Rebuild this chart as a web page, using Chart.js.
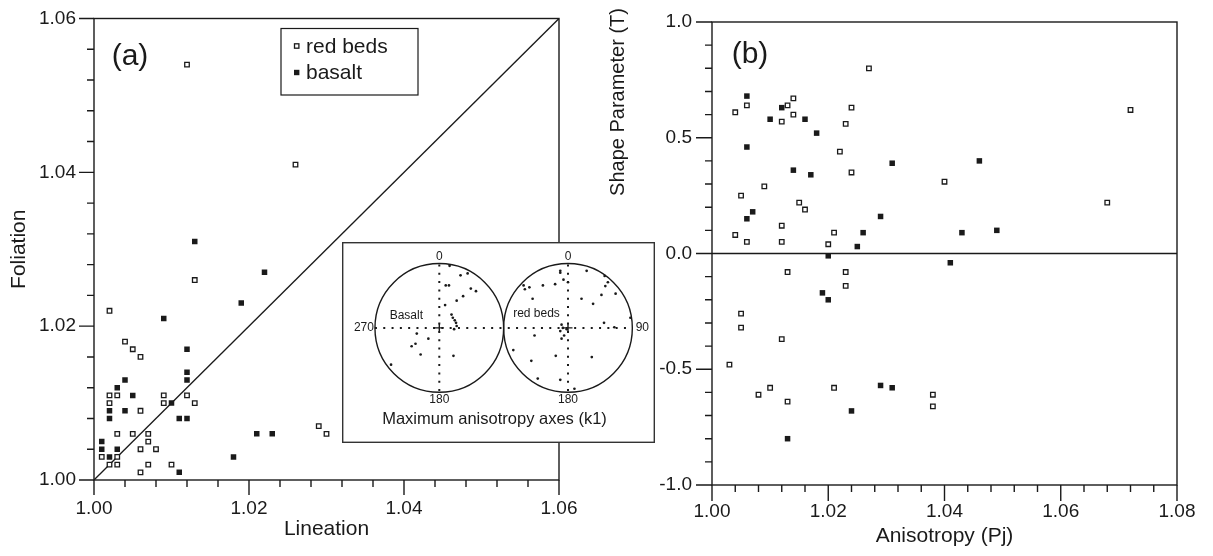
<!DOCTYPE html>
<html>
<head>
<meta charset="utf-8">
<title>Foliation / Lineation and Shape Parameter</title>
<script src="https://cdn.jsdelivr.net/npm/chart.js@4.4.0/dist/chart.umd.min.js"></script>
<style>
  html, body { margin: 0; padding: 0; background: #fff; }
  #wrap { position: relative; width: 1213px; height: 556px; overflow: hidden; }
  canvas { position: absolute; }
  #chartA { left: 0; top: 0; }
  #chartB { left: 600px; top: 0; }
  #chartNet { left: 342px; top: 242px; }
</style>
</head>
<body>
<div id="wrap">
  <canvas id="chartA" width="600" height="556"></canvas>
  <canvas id="chartB" width="613" height="556"></canvas>
  <canvas id="chartNet" width="313" height="201"></canvas>
</div>
<script>
// ---------- data: panel (a) lineation vs foliation ----------
const redBedsLin = [1.012, 1.026, 1.013, 1.002, 1.004, 1.005, 1.006, 1.002, 1.003, 1.009,
                    1.012, 1.002, 1.009, 1.013, 1.006, 1.003, 1.005, 1.007, 1.007, 1.006,
                    1.008, 1.001, 1.003, 1.002, 1.003, 1.007, 1.010, 1.006, 1.029, 1.030];
const redBedsFol = [1.054, 1.041, 1.026, 1.022, 1.018, 1.017, 1.016, 1.011, 1.011, 1.011,
                    1.011, 1.010, 1.010, 1.010, 1.009, 1.006, 1.006, 1.006, 1.005, 1.004,
                    1.004, 1.003, 1.003, 1.002, 1.002, 1.002, 1.002, 1.001, 1.007, 1.006];
const basaltLin = [1.013, 1.022, 1.019, 1.009, 1.012, 1.012, 1.012, 1.004, 1.003, 1.005,
                   1.010, 1.002, 1.004, 1.002, 1.011, 1.012, 1.001, 1.001, 1.003, 1.002,
                   1.018, 1.011, 1.021, 1.023];
const basaltFol = [1.031, 1.027, 1.023, 1.021, 1.017, 1.014, 1.013, 1.013, 1.012, 1.011,
                   1.010, 1.009, 1.009, 1.008, 1.008, 1.008, 1.005, 1.004, 1.004, 1.003,
                   1.003, 1.001, 1.006, 1.006];
const diagonalA = [1.00, 1.06];

// ---------- data: panel (b) anisotropy vs shape parameter ----------
const redBedsPj = [1.027, 1.006, 1.004, 1.013, 1.014, 1.014, 1.012, 1.024, 1.023, 1.022,
                   1.024, 1.009, 1.005, 1.015, 1.016, 1.012, 1.004, 1.021, 1.006, 1.012,
                   1.020, 1.013, 1.023, 1.023, 1.005, 1.005, 1.012, 1.003, 1.010, 1.008,
                   1.013, 1.021, 1.038, 1.038, 1.040, 1.068, 1.072];
const redBedsT = [0.80, 0.64, 0.61, 0.64, 0.67, 0.60, 0.57, 0.63, 0.56, 0.44,
                  0.35, 0.29, 0.25, 0.22, 0.19, 0.12, 0.08, 0.09, 0.05, 0.05,
                  0.04, -0.08, -0.08, -0.14, -0.26, -0.32, -0.37, -0.48, -0.58, -0.61,
                  -0.64, -0.58, -0.61, -0.66, 0.31, 0.22, 0.62];
const basaltPj = [1.006, 1.012, 1.010, 1.016, 1.018, 1.006, 1.031, 1.014, 1.017, 1.007,
                  1.006, 1.029, 1.026, 1.025, 1.020, 1.019, 1.020, 1.029, 1.031, 1.024,
                  1.013, 1.046, 1.043, 1.049, 1.041];
const basaltT = [0.68, 0.63, 0.58, 0.58, 0.52, 0.46, 0.39, 0.36, 0.34, 0.18,
                 0.15, 0.16, 0.09, 0.03, -0.01, -0.17, -0.20, -0.57, -0.58, -0.68,
                 -0.80, 0.40, 0.09, 0.10, -0.04];
const zeroLineB = [1.00, 1.08];

// ---------- data: inset stereonets (k1 axes, unit-circle coords) ----------
const basaltNetX = [0.16, 0.33, 0.44, 0.10, 0.15, 0.49, 0.57, 0.37, 0.27, 0.09, 0.19, 0.21,
                    0.24, 0.26, 0.27, 0.23, -0.35, -0.17, -0.37, -0.43, -0.29, 0.22, -0.75];
const basaltNetY = [0.98, 0.83, 0.86, 0.67, 0.67, 0.62, 0.58, 0.50, 0.43, 0.36, 0.21, 0.16,
                    0.12, 0.08, 0.03, -0.02, -0.09, -0.17, -0.25, -0.29, -0.42, -0.44, -0.58];
const redNetX = [-0.12, -0.12, -0.07, 0.00, 0.29, 0.57, 0.62, 0.58, -0.69, -0.60, -0.39, -0.20,
                 -0.67, -0.55, 0.21, 0.39, 0.52, 0.74, 0.97, 0.56, 0.72, -0.10, -0.08, -0.12,
                 -0.06, -0.10, -0.02, -0.52, -0.85, -0.57, -0.19, 0.37, -0.47, -0.12, 0.10];
const redNetY = [0.90, 0.87, 0.76, 0.72, 0.90, 0.82, 0.72, 0.66, 0.67, 0.64, 0.67, 0.69,
                 0.61, 0.46, 0.46, 0.38, 0.52, 0.54, 0.16, 0.08, 0.01, 0.05, 0.00, -0.05,
                 -0.12, -0.17, -0.02, -0.12, -0.35, -0.52, -0.44, -0.46, -0.80, -0.82, -0.96];
const netCenters = [-1, 1];

// ---------- common style ----------
const FONT = "'Liberation Sans', Arial, Helvetica, sans-serif";
const INK = '#1a1a1a';

const pts = (xs, ys) => xs.map((x, i) => ({ x: x, y: ys[i] }));

function isMajor(v, step) {
    const r = v / step;
    return Math.abs(r - Math.round(r)) < 1e-6;
}

const openSquare = { pointStyle: 'rect', pointRadius: 3.2, pointBackgroundColor: '#fff',
                     pointBorderColor: INK, pointBorderWidth: 1.3, showLine: false };
const filledSquare = { pointStyle: 'rect', pointRadius: 3.9, pointBackgroundColor: INK,
                       pointBorderColor: INK, pointBorderWidth: 0, showLine: false };

// frame around plot area + major / minor tick marks drawn from the scales
const boxAndTicks = {
    id: 'boxAndTicks',
    afterDatasetsDraw(chart, args, o) {
        const { ctx, chartArea: a } = chart;
        const sx = chart.scales.x, sy = chart.scales.y;
        ctx.save();
        ctx.strokeStyle = INK;
        ctx.lineWidth = 1.4;
        ctx.strokeRect(a.left, a.top, a.right - a.left, a.bottom - a.top);
        ctx.beginPath();
        sx.ticks.forEach(t => {
            const p = sx.getPixelForValue(t.value);
            const len = isMajor(t.value, o.xMajor) ? o.major : o.minor;
            ctx.moveTo(p, a.bottom);
            ctx.lineTo(p, a.bottom + len);
        });
        sy.ticks.forEach(t => {
            const p = sy.getPixelForValue(t.value);
            const len = isMajor(t.value, o.yMajor) ? o.major : o.minor;
            ctx.moveTo(a.left, p);
            ctx.lineTo(a.left - len, p);
        });
        ctx.stroke();
        ctx.restore();
    }
};

function axis(min, max, step, major, digits, fit, tickLen, pad) {
    return {
        type: 'linear', min: min, max: max,
        afterFit: fit,
        grid: { display: true, drawOnChartArea: false, drawTicks: true,
                tickLength: tickLen, tickColor: 'rgba(0,0,0,0)' },
        border: { display: false },
        ticks: {
            stepSize: step, autoSkip: false, maxRotation: 0, padding: pad,
            color: INK, font: { family: FONT, size: 19 },
            callback: v => isMajor(v, major) ? v.toFixed(digits) : ''
        }
    };
}

// ============================================
// PANEL (a)
// ============================================
const extrasA = {
    id: 'extrasA',
    afterDraw(chart) {
        const ctx = chart.ctx;
        ctx.save();
        ctx.fillStyle = INK;
        ctx.textAlign = 'center';
        ctx.textBaseline = 'middle';
        ctx.font = `30px ${FONT}`;
        ctx.fillText('(a)', 130, 57);

        // legend
        ctx.strokeStyle = INK;
        ctx.lineWidth = 1.2;
        ctx.strokeRect(281, 28.5, 137, 66.5);
        const ds = chart.data.datasets;
        const rows = [{ d: ds[0], y: 46 }, { d: ds[1], y: 72.5 }];
        ctx.font = `21px ${FONT}`;
        ctx.textAlign = 'left';
        rows.forEach(r => {
            if (r.d.pointBackgroundColor === '#fff') {
                ctx.lineWidth = 1.3;
                ctx.strokeRect(294.5, r.y - 2.2, 4.4, 4.4);
            } else {
                ctx.fillRect(294, r.y - 2.7, 5.4, 5.4);
            }
            ctx.fillText(r.d.label, 306, r.y + 1);
        });
        ctx.restore();
    }
};

new Chart(document.getElementById('chartA'), {
    type: 'scatter',
    data: {
        datasets: [
            Object.assign({ label: 'red beds', data: pts(redBedsLin, redBedsFol) }, openSquare),
            Object.assign({ label: 'basalt', data: pts(basaltLin, basaltFol) }, filledSquare),
            { label: 'y = x', data: pts(diagonalA, diagonalA), showLine: true,
              borderColor: INK, borderWidth: 1.3, pointRadius: 0 }
        ]
    },
    options: {
        responsive: false, animation: false, events: [],
        layout: { padding: { top: 18.5, right: 41, left: 0, bottom: 0 } },
        scales: {
            x: Object.assign(axis(1.00, 1.06, 0.004, 0.02, 2, s => { s.height = 76; }, 15, 2), {
                title: { display: true, text: 'Lineation', color: INK,
                         font: { family: FONT, size: 21 }, padding: { top: 0, bottom: 14 } }
            }),
            y: Object.assign(axis(1.00, 1.06, 0.004, 0.02, 2, s => { s.width = 94; }, 15, 3), {
                title: { display: true, text: 'Foliation', color: INK,
                         font: { family: FONT, size: 21 }, padding: { top: 7, bottom: 0 } }
            })
        },
        plugins: {
            legend: { display: false },
            tooltip: { enabled: false },
            boxAndTicks: { xMajor: 0.02, yMajor: 0.02, major: 15, minor: 7 }
        }
    },
    plugins: [boxAndTicks, extrasA]
});

// ============================================
// PANEL (b)
// ============================================
const extrasB = {
    id: 'extrasB',
    afterDraw(chart) {
        const ctx = chart.ctx;
        ctx.save();
        ctx.fillStyle = INK;
        ctx.textAlign = 'center';
        ctx.textBaseline = 'middle';
        ctx.font = `30px ${FONT}`;
        ctx.fillText('(b)', 150, 55);
        ctx.font = `20px ${FONT}`;
        ctx.translate(18, 102);
        ctx.rotate(-Math.PI / 2);
        ctx.fillText('Shape Parameter (T)', 0, 0);
        ctx.restore();
    }
};

new Chart(document.getElementById('chartB'), {
    type: 'scatter',
    data: {
        datasets: [
            Object.assign({ label: 'red beds', data: pts(redBedsPj, redBedsT) }, openSquare),
            Object.assign({ label: 'basalt', data: pts(basaltPj, basaltT) }, filledSquare),
            { label: 'T = 0', data: pts(zeroLineB, [0, 0]), showLine: true,
              borderColor: INK, borderWidth: 1.3, pointRadius: 0 }
        ]
    },
    options: {
        responsive: false, animation: false, events: [],
        layout: { padding: { top: 22, right: 36, left: 0, bottom: 0 } },
        scales: {
            x: Object.assign(axis(1.00, 1.08, 0.004, 0.02, 2, s => { s.height = 71; }, 15, 0), {
                title: { display: true, text: 'Anisotropy (Pj)', color: INK,
                         font: { family: FONT, size: 21 }, padding: { top: 0, bottom: 7 } }
            }),
            y: axis(-1.0, 1.0, 0.1, 0.5, 1, s => { s.width = 112; }, 16, 4)
        },
        plugins: {
            legend: { display: false },
            tooltip: { enabled: false },
            boxAndTicks: { xMajor: 0.02, yMajor: 0.5, major: 16, minor: 7 }
        }
    },
    plugins: [boxAndTicks, extrasB]
});

// ============================================
// INSET: stereonets of maximum anisotropy axes
// ============================================
const netPlugin = {
    id: 'netPlugin',
    beforeDraw(chart) {
        const ctx = chart.ctx;
        ctx.save();
        ctx.fillStyle = '#fff';
        ctx.fillRect(0, 0, chart.width, chart.height);
        ctx.restore();
    },
    beforeDatasetsDraw(chart) {
        const { ctx } = chart;
        const sx = chart.scales.x, sy = chart.scales.y;
        const cy = sy.getPixelForValue(0);
        ctx.save();
        ctx.strokeStyle = INK;
        ctx.fillStyle = INK;

        // dotted cross lines
        ctx.lineWidth = 2;
        ctx.setLineDash([2, 6.3]);
        ctx.beginPath();
        ctx.moveTo(sx.getPixelForValue(-2), cy);
        ctx.lineTo(sx.getPixelForValue(2), cy);
        netCenters.forEach(c => {
            const cx = sx.getPixelForValue(c);
            ctx.moveTo(cx, sy.getPixelForValue(1));
            ctx.lineTo(cx, sy.getPixelForValue(-1));
        });
        ctx.stroke();
        ctx.setLineDash([]);

        // circles and centre crosses
        ctx.lineWidth = 1.4;
        netCenters.forEach(c => {
            const cx = sx.getPixelForValue(c);
            const r = sx.getPixelForValue(c + 1) - cx;
            ctx.beginPath();
            ctx.arc(cx, cy, r, 0, Math.PI * 2);
            ctx.stroke();
            ctx.beginPath();
            ctx.moveTo(cx - 4.5, cy); ctx.lineTo(cx + 4.5, cy);
            ctx.moveTo(cx, cy - 4.5); ctx.lineTo(cx, cy + 4.5);
            ctx.stroke();
        });

        // direction labels
        ctx.font = `12px ${FONT}`;
        ctx.textAlign = 'center';
        ctx.textBaseline = 'middle';
        netCenters.forEach(c => {
            const cx = sx.getPixelForValue(c);
            ctx.fillText('0', cx, sy.getPixelForValue(1) - 8);
            ctx.fillText('180', cx, sy.getPixelForValue(-1) + 8.5);
        });
        ctx.fillText('270', sx.getPixelForValue(-2) - 11, cy);
        ctx.fillText('90', sx.getPixelForValue(2) + 10, cy);
        ctx.fillText(chart.data.datasets[0].label, sx.getPixelForValue(-1) - 33, cy - 12);
        ctx.fillText(chart.data.datasets[1].label, sx.getPixelForValue(1) - 31.5, cy - 14);

        ctx.font = `16.5px ${FONT}`;
        ctx.fillText('Maximum anisotropy axes (k1)', 152.5, 177.5);
        ctx.restore();
    },
    afterDraw(chart) {
        const ctx = chart.ctx;
        ctx.save();
        ctx.strokeStyle = '#333';
        ctx.lineWidth = 1.4;
        ctx.strokeRect(0.7, 0.7, chart.width - 1.4, chart.height - 1.4);
        ctx.restore();
    }
};

const netDot = { pointStyle: 'circle', pointRadius: 1.35, pointBackgroundColor: INK,
                 pointBorderWidth: 0, showLine: false };

new Chart(document.getElementById('chartNet'), {
    type: 'scatter',
    data: {
        datasets: [
            Object.assign({ label: 'Basalt',
                data: basaltNetX.map((x, i) => ({ x: netCenters[0] + x, y: basaltNetY[i] })) }, netDot),
            Object.assign({ label: 'red beds',
                data: redNetX.map((x, i) => ({ x: netCenters[1] + x, y: redNetY[i] })) }, netDot)
        ]
    },
    options: {
        responsive: false, animation: false, events: [],
        layout: { padding: 0 },
        scales: {
            x: { type: 'linear', display: false, min: -2.45, max: 2.29 },
            y: { type: 'linear', display: false, min: -1.753, max: 1.292 }
        },
        plugins: { legend: { display: false }, tooltip: { enabled: false } }
    },
    plugins: [netPlugin]
});
</script>
</body>
</html>
